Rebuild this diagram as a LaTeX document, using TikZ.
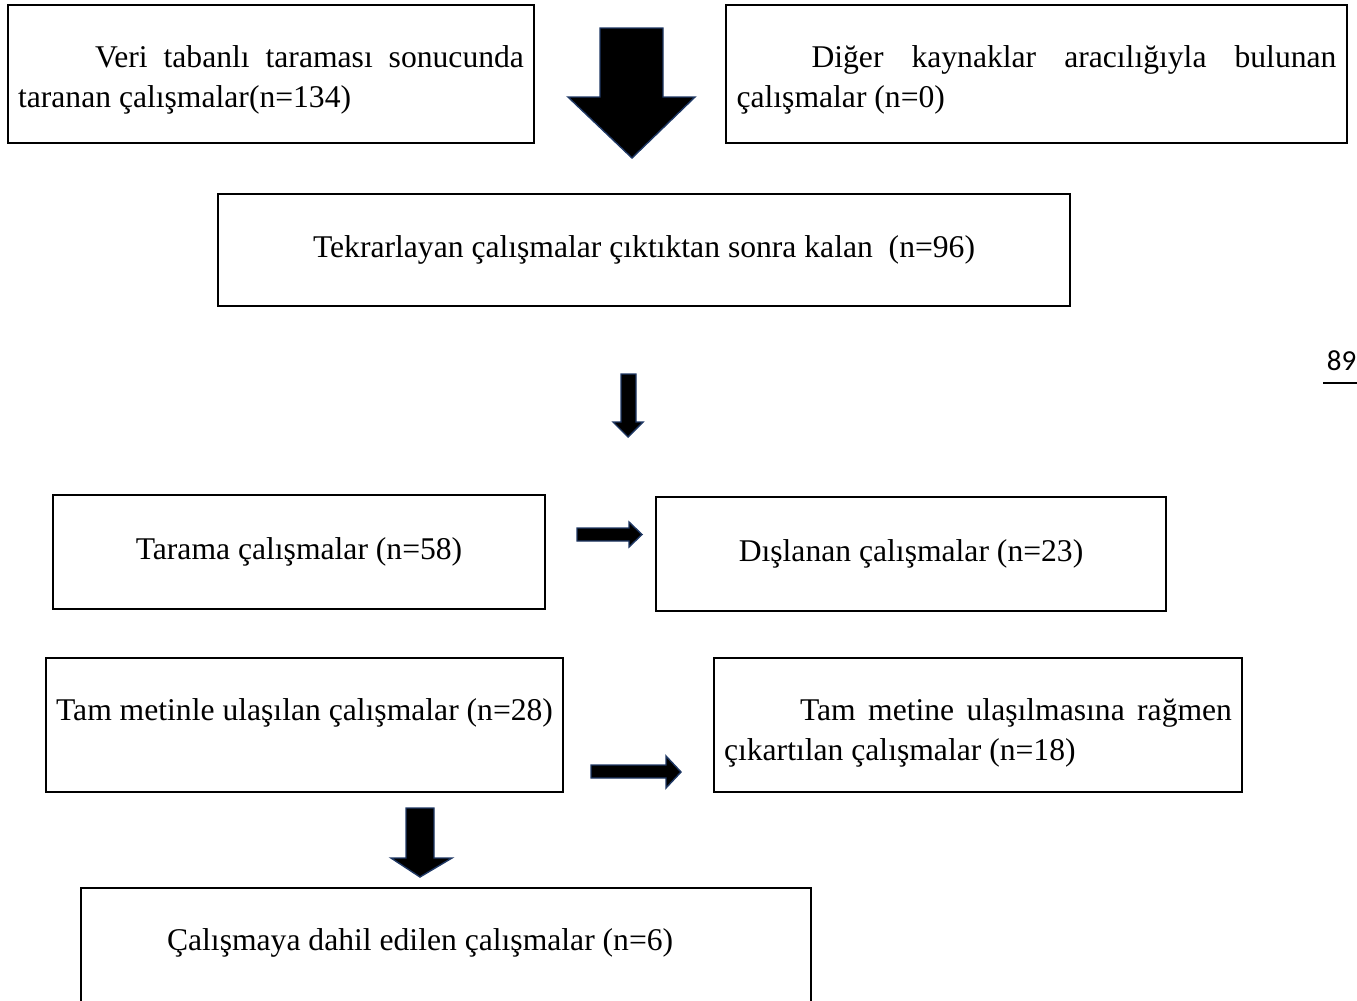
\documentclass[tikz,border=0pt]{standalone}
\usepackage{fontspec}
\setmainfont{Liberation Serif}
\newfontfamily\pgnum{Carlito}
\usepackage{tikz}
\hyphenpenalty=10000
\definecolor{navyedge}{HTML}{1F3864}
\tikzstyle{bx}=[draw,rectangle,line width=1.1pt,inner sep=0pt,font=\fontsize{18}{22.8}\selectfont]
\tikzstyle{ar}=[draw=navyedge,fill=black,line width=0.8pt,line join=miter]

\begin{document}
\begin{tikzpicture}[x=0.02cm,y=-0.02cm]
      \useasboundingbox (0,0) rectangle (1357,1001);
      \clip (0,0) rectangle (1357,1001);
      % top row
      \node [bx,minimum width=10.52cm,text width=10.12cm,align=justify,text height=1.24cm,text depth=1.52cm] (db) at (271,74) {\hspace*{1.54cm}Veri tabanlı taraması sonucunda taranan çalışmalar(n=134)};
      \node [bx,minimum width=12.42cm,text width=12cm,align=justify,text height=1.24cm,text depth=1.52cm] (other) at (1036.5,74) {\hspace*{1.5cm}Diğer kaynaklar aracılığıyla bulunan çalışmalar (n=0)};
      \draw [ar] (600,28) -- (663,28) -- (663,97) -- (695,97) -- (632,158) -- (568,97) -- (600,97) -- cycle;
      \node [bx,minimum width=17.04cm,minimum height=2.24cm] (dup) at (644,250) {Tekrarlayan çalışmalar çıktıktan sonra kalan \ (n=96)};
      \node [font=\pgnum\fontsize{16.5}{18}\selectfont,inner sep=0pt,anchor=base] (pg) at (1341.5,370) {89};
      \draw [line width=1.1pt] (1323,383) -- (1357,383);
      \draw [ar] (621,374) -- (636,374) -- (636,422) -- (643,422) -- (628,437) -- (613,422) -- (621,422) -- cycle;
      % screening
      \node [bx,minimum width=9.84cm,minimum height=2.28cm] (scr) at (299,552) {Tarama çalışmalar (n=58)};
      \node [bx,minimum width=10.2cm,minimum height=2.28cm] (exc) at (911,554) {Dışlanan çalışmalar (n=23)};
      \draw [ar] (577,528) -- (629,528) -- (629,522) -- (642,534.5) -- (629,547) -- (629,541) -- (577,541) -- cycle;
      % full text
      \node [bx,minimum width=10.34cm,text height=1.24cm,text depth=1.44cm] (full) at (304.5,725) {Tam metinle ulaşılan çalışmalar (n=28)};
      \node [bx,minimum width=10.56cm,text width=10.16cm,align=justify,text height=1.24cm,text depth=1.44cm] (rem) at (978,725) {\hspace*{1.52cm}Tam metine ulaşılmasına rağmen çıkartılan çalışmalar (n=18)};
      \draw [ar] (591,765) -- (666,765) -- (666,756) -- (681,772) -- (666,788) -- (666,778) -- (591,778) -- cycle;
      \draw [ar] (406,808) -- (434,808) -- (434,858) -- (452,858) -- (420,877) -- (391,858) -- (406,858) -- cycle;
      \node [bx,anchor=north,text width=14.6cm,align=flush left,text height=1.26cm,text depth=2.4cm] (inc) at (446,887) {\hspace*{1.72cm}Çalışmaya dahil edilen çalışmalar (n=6)};
    \end{tikzpicture}
\end{document}
